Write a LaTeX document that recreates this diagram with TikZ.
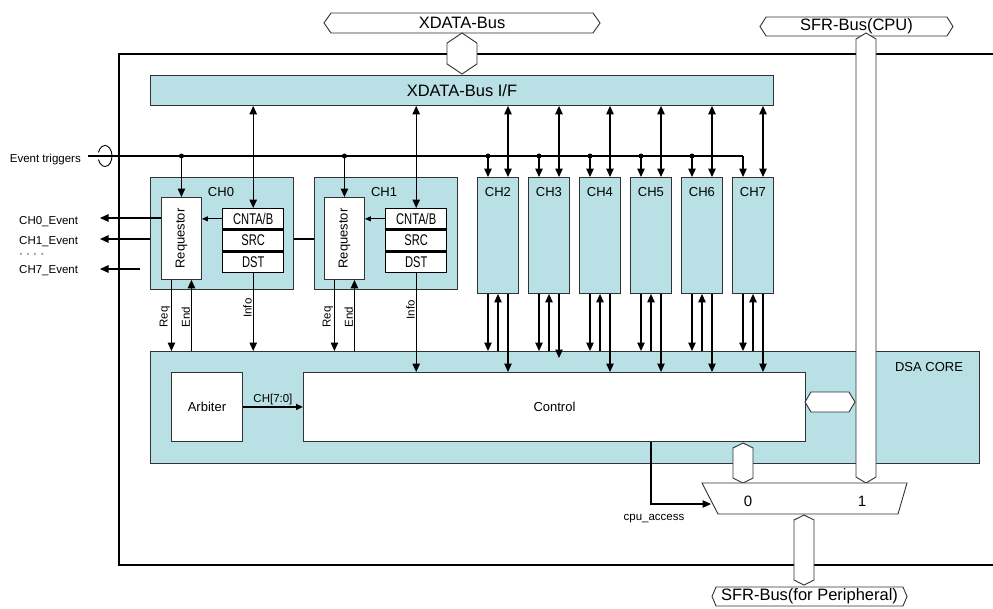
\documentclass[tikz,border=0pt]{standalone}
\usepackage{fontspec}
\setmainfont{Liberation Sans}
\setsansfont{Liberation Sans}
\newfontfamily\regfont[FakeStretch=0.72]{Liberation Sans}
\usepackage{tikz}
\usetikzlibrary{arrows.meta, positioning, shapes.symbols, shapes.geometric, backgrounds, calc}

\definecolor{corecyan}{RGB}{185, 224, 228}
\definecolor{edgegray}{RGB}{50, 50, 50}

\begin{document}
\begin{tikzpicture}[
    x=1pt, y=-1pt,
    font=\fontsize{13}{15}\selectfont,
    >={Triangle[length=8.5pt, width=7.5pt]},
    frame/.style={draw=black, line width=2.4pt},
    unit/.style={
        rectangle, draw=edgegray, fill=corecyan, line width=0.9pt, inner sep=0pt, anchor=north west
    },
    blk/.style={
        rectangle, draw=edgegray, fill=white, line width=0.9pt, inner sep=0pt, anchor=north west
    },
    reg/.style={
        rectangle, draw=black, fill=white, line width=1.4pt, minimum width=61pt, minimum height=20.3pt,
        inner sep=0pt, font=\regfont\fontsize{15.5}{16}\selectfont
    },
    hbus/.style={
        signal, signal to=east and west, draw=edgegray, fill=white, line width=0.9pt, inner sep=0pt
    },
    vbus/.style={hbus, rotate=90},
    wire/.style={line width=1.1pt},
    junc/.style={circle, fill=black, inner sep=0pt, minimum size=5pt},
    big/.style={font=\fontsize{16.5}{18}\selectfont},
    tag/.style={font=\fontsize{11.5}{13}\selectfont, inner sep=1pt},
    vtag/.style={tag, rotate=90, anchor=south}
]
\useasboundingbox (0,0) rectangle (993,608);

% outer frame, open to the right
\draw[frame] (993,54) -- (119,54) -- (119,565) -- (993,565);

% buses at the top
\node[hbus, big, minimum width=276pt, minimum height=20pt, signal pointer angle=110] (xbus) at (462,23) {XDATA-Bus};
\node[hbus, big, minimum width=193pt, minimum height=19pt, signal pointer angle=115] (sfrcpu) at (856.5,26.5) {SFR-Bus(CPU)};
\node[vbus, minimum width=41pt, minimum height=30pt, signal pointer angle=112] (xhex) at (462,53.5) {};

% XDATA bus interface
\node[unit, big, minimum width=623pt, minimum height=30pt] (xif) at (150,75) {XDATA-Bus I/F};

% DSA core
\node[unit, minimum width=829pt, minimum height=112pt] (dsa) at (150,351) {};
\node (dsaname) at (929,367) {DSA CORE};
\node[blk, minimum width=71pt, minimum height=69pt] (arb) at (171,372) {Arbiter};
\node[blk, minimum width=502pt, minimum height=69pt] (ctrl) at (303,372) {Control};
\draw[line width=1.4pt, ->, >={Triangle[length=7pt, width=6pt]}] (arb) -- node[tag, above] (chsel) {CH[7:0]} (ctrl);

% event triggers
\node[tag, anchor=east] (evt) at (82,160) {Event triggers};
\coordinate (evtin) at (88,156);
\draw[line width=0.9pt] (105,156) ++(160:7pt and 10.5pt) arc[start angle=160, end angle=-160, x radius=7pt, y radius=10.5pt];

% CH0 and CH1
\node[unit, minimum width=143pt, minimum height=112pt] (ch0) at (150,177) {};
\node[unit, minimum width=143pt, minimum height=112pt, right=20pt of ch0] (ch1) {};
\node (ch0name) at (221,192) {CH0};
\node (ch1name) at (384,192) {CH1};

\node[blk, minimum width=40pt, minimum height=82pt] (req0) at (161,197) {\rotatebox{90}{Requestor}};
\node[blk, minimum width=40pt, minimum height=82pt] (req1) at (324,197) {\rotatebox{90}{Requestor}};

\node[reg, anchor=north west] (cnt0) at (222,208) {CNTA/B};
\node[reg, below=0pt of cnt0] (src0) {SRC};
\node[reg, below=0pt of src0] (dst0) {DST};
\node[reg, anchor=north west] (cnt1) at (385,208) {CNTA/B};
\node[reg, below=0pt of cnt1] (src1) {SRC};
\node[reg, below=0pt of src1] (dst1) {DST};

\draw[->, >={Triangle[length=6pt, width=5pt]}, line width=0.9pt] (cnt0.west) -- (cnt0.west -| req0.east);
\draw[->, >={Triangle[length=6pt, width=5pt]}, line width=0.9pt] (cnt1.west) -- (cnt1.west -| req1.east);

\draw[wire, <->] (xif.south -| cnt0.north) -- (cnt0.north);
\draw[wire, <->] (xif.south -| cnt1.north) -- (cnt1.north);
\draw[wire, ->] (req0.north |- evtin) -- (req0.north);
\draw[wire, ->] (req1.north |- evtin) -- (req1.north);
\node[junc] (j0) at (req0.north |- evtin) {};
\node[junc] (j1) at (req1.north |- evtin) {};

% CH2 .. CH7
\foreach \k/\lift in {2/0, 3/14, 4/0, 5/0, 6/0, 7/0}{
    \pgfmathsetmacro{\lx}{477+51*(\k-2)}
    \node[unit, minimum width=41pt, minimum height=116pt] (ch\k) at (\lx,177) {};
    \node (chname\k) at ([yshift=-15pt]ch\k.north) {CH\k};
    \coordinate (ev\k) at ([xshift=11pt]ch\k.north west);
    \coordinate (up\k) at ([xshift=21pt]ch\k.south west);
    \coordinate (io\k) at ([xshift=31pt]ch\k.north west);
    \draw[wire, <->] (xif.south -| io\k) -- (io\k);
    \draw[wire, ->] (evtin -| ev\k) -- (ev\k);
    \draw[wire, ->] (ev\k |- ch\k.south) -- (ev\k |- dsa.north);
    \draw[wire, ->] (up\k |- dsa.north) -- (up\k);
    \draw[wire, ->] (io\k |- ch\k.south) -- ([yshift=\lift pt]io\k |- ctrl.north);
    \ifnum\k<7 \node[junc] (j\k) at (evtin -| ev\k) {}; \fi
}
\draw[wire] (evtin) -- (evtin -| ev7);

% event outputs
\coordinate (out0) at (100,218);
\coordinate (out1) at (100,239);
\coordinate (out7) at (100,269);
\coordinate (stub7) at (140,269);
\draw[wire, ->] (req0.west |- out0) -- (out0);
\begin{scope}[on background layer]
    \draw[wire, ->] (req1.west |- out1) -- (out1);
\end{scope}
\draw[wire, ->] (stub7) -- (out7);
\node[tag, anchor=west] (ev0name) at (18,222) {CH0\_Event};
\node[tag, anchor=west] (ev1name) at (18,242) {CH1\_Event};
\node[tag, anchor=west] (evdots) at (18,256) {· · · ·};
\node[tag, anchor=west] (ev7name) at (18,271) {CH7\_Event};

% requests, ends and info
\coordinate (rq0) at ([xshift=-10pt]req0.south);
\coordinate (en0) at ([xshift=10pt]req0.south);
\coordinate (rq1) at ([xshift=-10pt]req1.south);
\coordinate (en1) at ([xshift=10pt]req1.south);
\draw[wire, ->] (rq0) -- (rq0 |- dsa.north) node[vtag, pos=0.52] (rqtag0) {Req};
\draw[wire, ->] (en0 |- dsa.north) -- (en0) node[vtag, pos=0.48] (entag0) {End};
\draw[wire, ->] (dst0.south) -- (dst0.south |- dsa.north) node[vtag, pos=0.45] (info0) {Info};
\draw[wire, ->] (rq1) -- (rq1 |- dsa.north) node[vtag, pos=0.52] (rqtag1) {Req};
\draw[wire, ->] (en1 |- dsa.north) -- (en1) node[vtag, pos=0.48] (entag1) {End};
\draw[wire, ->] (dst1.south) -- (dst1.south |- ctrl.north) node[vtag, pos=0.37] (info1) {Info};

% SFR side
\node[vbus, minimum width=450pt, minimum height=20pt, signal pointer angle=118] (sfrbar) at (866,258) {};
\node[hbus, minimum width=50pt, minimum height=20pt, signal pointer angle=118] (ctrlhex) at (830,402) {};
\node[vbus, minimum width=40pt, minimum height=20pt, signal pointer angle=127] (muxin) at (743,463) {};
\coordinate (muxtl) at (702,483);
\coordinate (muxtr) at (907,483);
\coordinate (muxbr) at (898,514);
\coordinate (muxbl) at (718,514);
\draw[draw=edgegray, fill=white, line width=0.9pt] (muxtl) -- (muxtr) -- (muxbr) -- (muxbl) -- cycle;
\node[font=\fontsize{15}{17}\selectfont] (mux0) at (748,501) {0};
\node[font=\fontsize{15}{17}\selectfont] (mux1) at (862,501) {1};
\node[vbus, minimum width=70pt, minimum height=20pt, signal pointer angle=127] (muxout) at (804,550) {};
\node[hbus, big, minimum width=195pt, minimum height=19pt, signal pointer angle=134] (sfrper) at (809.5,596.5) {SFR-Bus(for Peripheral)};

\coordinate (acc) at ([xshift=348pt]ctrl.south west);
\coordinate (selin) at (711,504);
\draw[wire, ->] (acc) |- (selin);
\node[tag] (acctag) at (654,519) {cpu\_access};

\end{tikzpicture}
\end{document}
